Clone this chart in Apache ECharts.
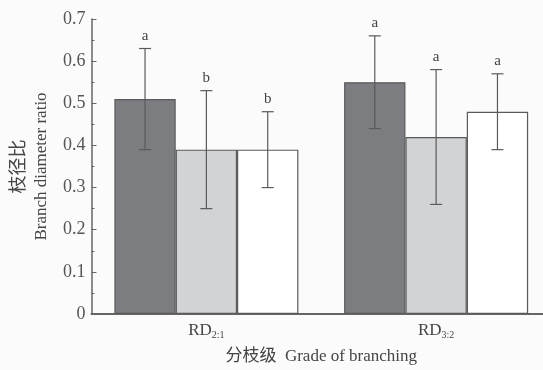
<!DOCTYPE html>
<html>
<head>
<meta charset="utf-8">
<script src="https://cdn.jsdelivr.net/npm/echarts@6/dist/echarts.min.js"></script>
<style>
  html, body { margin: 0; padding: 0; background: #ffffff; overflow: hidden; }
  #chart { width: 551px; height: 370px; }
</style>
</head>
<body>
<div id="chart"></div>
<script>
// Branch diameter ratio by grade of branching (mean ± SD, letters = significance groups)
const categories = ['2:1', '3:2'];
const yTicks = [0, 0.1, 0.2, 0.3, 0.4, 0.5, 0.6, 0.7];

const darkMean = [0.51, 0.55];
const darkErr = [0.12, 0.11];
const darkLetters = ['a', 'a'];

const greyMean = [0.39, 0.42];
const greyErr = [0.14, 0.16];
const greyLetters = ['b', 'a'];

const whiteMean = [0.39, 0.48];
const whiteErr = [0.09, 0.09];
const whiteLetters = ['b', 'a'];

const SERIF = '"Liberation Serif", "Times New Roman", serif';
const CJK = '"Noto Sans CJK SC", sans-serif';
const EDGE = '#5a5a5a';
const CAT_GAP = 0.199;

const groups = [
  { name: 'dark', mean: darkMean, err: darkErr, letters: darkLetters, color: '#7c7d81' },
  { name: 'grey', mean: greyMean, err: greyErr, letters: greyLetters, color: '#d2d3d5' },
  { name: 'white', mean: whiteMean, err: whiteErr, letters: whiteLetters, color: '#ffffff' }
];

const barSeries = groups.map(g => ({
  name: g.name,
  type: 'bar',
  data: g.mean,
  barGap: '0%',
  barCategoryGap: (CAT_GAP * 100) + '%',
  itemStyle: { color: g.color, borderColor: EDGE, borderWidth: 1.2 },
  emphasis: { disabled: true },
  z: 2
}));

function errorRenderer(slot) {
  return function (params, api) {
    const cat = api.value(0);
    const mean = api.value(1);
    const err = api.value(2);
    const letter = groups[slot].letters[params.dataIndex];
    const band = api.size([1, 0])[0];
    const bw = band * (1 - CAT_GAP) / 3;
    const base = api.coord([cat, mean]);
    const x = base[0] + (slot - 1) * bw;
    const yHi = api.coord([cat, mean + err])[1];
    const yLo = api.coord([cat, mean - err])[1];
    const cap = 6;
    const line = { stroke: EDGE, lineWidth: 1.2 };
    return {
      type: 'group',
      children: [
        { type: 'line', shape: { x1: x, y1: yHi, x2: x, y2: yLo }, style: line },
        { type: 'line', shape: { x1: x - cap, y1: yHi, x2: x + cap, y2: yHi }, style: line },
        { type: 'line', shape: { x1: x - cap, y1: yLo, x2: x + cap, y2: yLo }, style: line },
        {
          type: 'text',
          style: {
            x: x, y: yHi - 5, text: letter,
            textAlign: 'center', textVerticalAlign: 'bottom',
            font: '15px ' + SERIF, fill: '#444'
          }
        }
      ]
    };
  };
}

const errSeries = groups.map((g, slot) => ({
  name: g.name + '-err',
  type: 'custom',
  renderItem: errorRenderer(slot),
  data: g.mean.map((m, i) => [i, m, g.err[i]]),
  z: 5,
  silent: true
}));

const chart = echarts.init(document.getElementById('chart'), null, { renderer: 'canvas' });
chart.setOption({
  backgroundColor: '#fbfbfb',
  animation: false,
  grid: { left: 88, right: 0, top: 19, bottom: 56, containLabel: false },
  xAxis: {
    type: 'category',
    data: categories,
    axisLine: { lineStyle: { color: '#666', width: 2 } },
    axisTick: { show: false },
    axisLabel: {
      margin: 7,
      formatter: v => '{m|RD}{s|' + v + '}',
      rich: {
        m: { fontFamily: SERIF, fontSize: 17, color: '#444', lineHeight: 20 },
        s: { fontFamily: SERIF, fontSize: 10, color: '#444', lineHeight: 20, padding: [9, 0, 0, 0] }
      }
    },
    name: '分枝级  Grade of branching',
    nameLocation: 'middle',
    nameGap: 34,
    nameTextStyle: {
      fontFamily: SERIF + ', ' + CJK, fontSize: 17, color: '#444'
    }
  },
  yAxis: {
    type: 'value',
    min: yTicks[0],
    max: yTicks[yTicks.length - 1],
    interval: 0.1,
    axisLine: { show: true, lineStyle: { color: '#666', width: 1.5 } },
    axisTick: { show: true, inside: true, length: 5, lineStyle: { color: '#666' } },
    minorTick: { show: true, splitNumber: 2, length: 3, lineStyle: { color: '#666' } },
    splitLine: { show: false },
    axisLabel: {
      margin: 6,
      fontFamily: SERIF, fontSize: 18, color: '#555',
      formatter: v => (v === 0 ? '0' : v.toFixed(1))
    },
    name: '{c|枝径比}\n{e|Branch diameter ratio}',
    nameLocation: 'middle',
    nameGap: 37,
    nameTextStyle: {
      rich: {
        c: { fontFamily: CJK, fontSize: 18, color: '#444', lineHeight: 25 },
        e: { fontFamily: SERIF, fontSize: 17, color: '#444', lineHeight: 25 }
      }
    }
  },
  series: barSeries.concat(errSeries)
});
</script>
</body>
</html>
